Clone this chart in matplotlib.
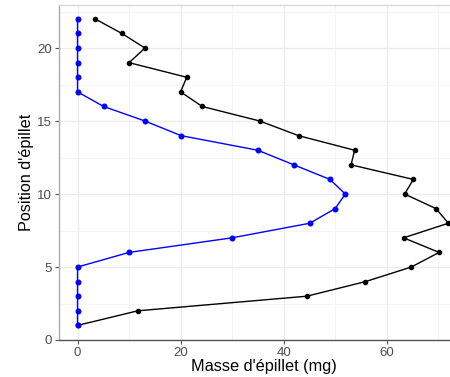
import matplotlib.pyplot as plt

plt.rcParams['font.family'] = ['Liberation Sans', 'DejaVu Sans']

position = list(range(1, 23))
masse_noir = [0, 11.7, 44.5, 55.9, 64.8, 70.2, 63.3, 72.0, 69.6, 63.5, 65.2,
              53.1, 53.8, 42.9, 35.4, 24.2, 20.0, 21.2, 10.0, 13.1, 8.6, 3.4]
masse_bleu = [0, 0, 0, 0, 0, 10.0, 30.0, 45.1, 50.0, 52.0, 49.0,
              42.0, 35.0, 20.1, 13.1, 5.05, 0, 0, 0, 0, 0, 0]
x_ticks = [0, 20, 40, 60]
y_ticks = [0, 5, 10, 15, 20]

fig = plt.figure(figsize=(4.5, 3.77), dpi=100)
# axes runs past the right edge of the image, like the reference crop
ax = fig.add_axes([59 / 450, 37 / 377, 410 / 450, 335 / 377])

ax.plot(masse_noir, position, color='black', lw=1, marker='o', ms=3, zorder=3)
ax.plot(masse_bleu, position, color='blue', lw=1, marker='o', ms=3.3, zorder=4)

ax.set_xlim(-3.6, 76)
ax.set_ylim(0, 22.95)
ax.set_xticks(x_ticks)
ax.set_yticks(y_ticks)
ax.set_xticks([10, 30, 50, 70], minor=True)
ax.set_yticks([2.5, 7.5, 12.5, 17.5, 22.5], minor=True)
ax.grid(True, which='major', color='#ebebeb', lw=0.9)
ax.grid(True, which='minor', color='#f4f4f4', lw=0.6)
ax.set_axisbelow(True)

ax.tick_params(which='major', length=3, width=0.8, color='#555555',
               labelsize=9.5, labelcolor='#4d4d4d', pad=2)
ax.tick_params(which='minor', length=0)

ax.spines['top'].set_color('#d9d9d9')
ax.spines['right'].set_color('#d9d9d9')
ax.spines['left'].set_color('#aaaaaa')
ax.spines['bottom'].set_color('#555555')
for s in ax.spines.values():
    s.set_linewidth(1)

ax.set_xlabel("Masse d'épillet (mg)", fontsize=11.7, labelpad=0)
ax.set_ylabel("Position d'épillet", fontsize=11.7, labelpad=2)

fig.savefig('out.png', dpi=100)
